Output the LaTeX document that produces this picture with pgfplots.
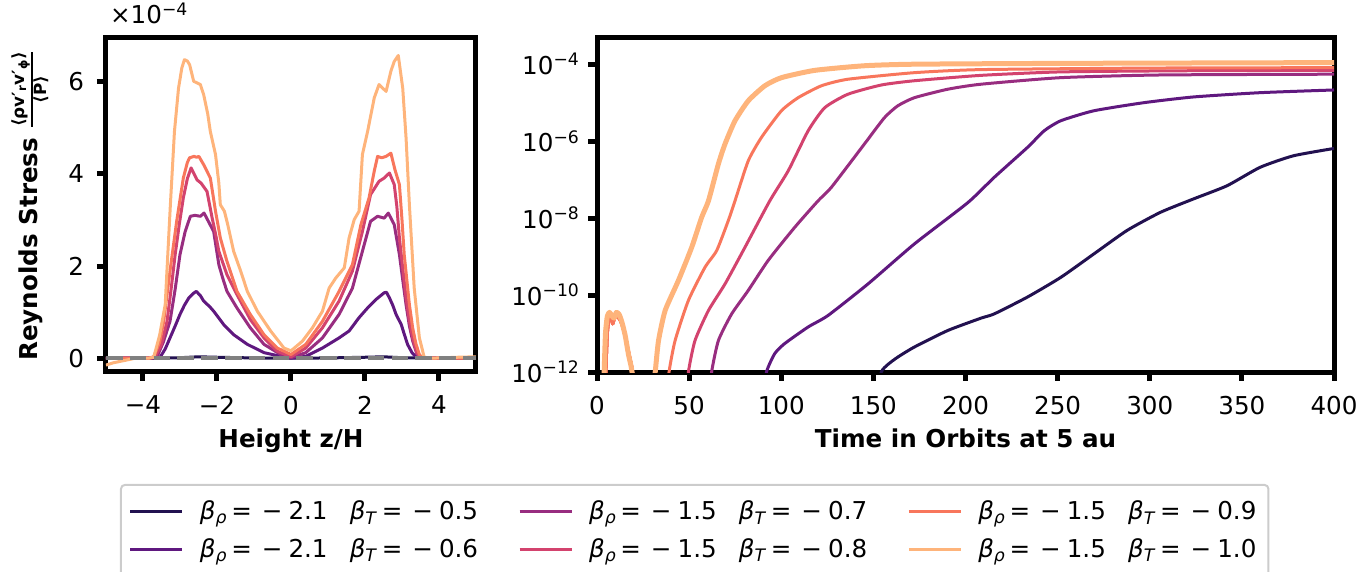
\documentclass[border=0pt]{standalone}
\usepackage{fontspec}
\setmainfont{DejaVu Sans}
\usepackage{pgfplots}
\pgfplotsset{compat=1.18}

% magma palette, one colour per run
\definecolor{mA}{HTML}{221150}
\definecolor{mB}{HTML}{5F187F}
\definecolor{mC}{HTML}{982D80}
\definecolor{mD}{HTML}{D3436E}
\definecolor{mE}{HTML}{F8765C}
\definecolor{mF}{HTML}{FEB47B}

\newcommand{\fs}{\fontsize{12.3}{14}\selectfont}
\newcommand{\bt}[2]{\textit{β}\textsubscript{\textit{ρ}}\hspace{0.15em}=\hspace{0.4em}−\hspace{0.25em}#1\hspace{0.9em}\textit{β}\textsubscript{\textit{T}}\hspace{0.15em}=\hspace{0.4em}−\hspace{0.25em}#2}

\pgfplotsset{
  panel/.style={
    scale only axis,
    height=167pt,
    clip mode=individual,
    axis line style={line width=2.5pt},
    tick align=outside,
    major tick length=4.5pt,
    major tick style={line width=2.5pt, black},
    minor tick length=0pt,
    xtick pos=lower, ytick pos=left,
    tick label style={font=\fs},
    xticklabel shift=4pt,
    label style={font=\fs\bfseries},
    every axis plot/.append style={line join=round},
  },
}

\begin{document}
\begin{tikzpicture}
% ---------------- vertical profile of the stress ----------------
\begin{axis}[panel,
  width=185pt,
  at={(0pt,0pt)}, anchor=south west,
  xmin=-5, xmax=5, ymin=-0.3, ymax=6.95,
  xtick={-4,-2,0,2,4}, xticklabels={−4,−2,0,2,4},
  ytick={0,2,4,6}, yticklabels={0,2,4,6},
  yticklabel shift=3pt,
  xlabel={Height z/H},
  xlabel style={at={(axis description cs:0.5,-0.2246)}, anchor=base},
  ylabel={Reynolds Stress ${\hbox{\fontsize{8.4}{9}\selectfont\bfseries ⟨ρv′\textsubscript{r}v′\textsubscript{ϕ}⟩}\above 0.7pt\hbox{\fontsize{8.4}{9}\selectfont\bfseries ⟨P⟩}}$},
  ylabel style={at={(axis description cs:-0.205,0.5)}, anchor=center, rotate=0},
  legend columns=3,
  legend style={at={(axis description cs:0.0378,-0.335)}, anchor=north west,
    draw=black!20, line width=1pt, rounded corners=2pt, font=\fs,
    column sep=0pt, row sep=4pt, inner xsep=4pt, inner ysep=6pt,
    /tikz/every odd column/.append style={column sep=6pt},
    /tikz/every even column/.append style={column sep=18pt}},
  legend cell align=left,
  legend image code/.code={\draw[#1, line width=1.5pt] (0pt,0pt) -- (26pt,0pt);},
]
\addplot[mA, line width=1.5pt, forget plot] coordinates {
(-5,0) (-3.6,0) (-3.0,0.01) (-2.5,0.03) (-2.0,0.02) (-1.0,0.005) (0,0)
(1.0,0.005) (2.0,0.02) (2.5,0.03) (3.0,0.01) (3.6,0) (5,0)};
\addplot[mB, line width=1.5pt, forget plot] coordinates {
(-5,0) (-3.7,0) (-3.53,0.03) (-3.4,0.2) (-3.27,0.44) (-3.13,0.70) (-3.00,0.95)
(-2.88,1.15) (-2.76,1.31) (-2.65,1.40) (-2.56,1.45) (-2.45,1.36) (-2.36,1.24)
(-2.2,1.12) (-2.09,1.02) (-1.95,0.87) (-1.82,0.73) (-1.55,0.51) (-1.18,0.30)
(-0.73,0.12) (-0.28,0.04) (0,0.0) (0.4,0.04) (0.85,0.22) (1.30,0.44)
(1.57,0.59) (1.84,0.88) (2.07,1.09) (2.29,1.27) (2.52,1.42) (2.58,1.43)
(2.66,1.31) (2.75,1.15) (2.84,0.95) (2.98,0.73) (3.05,0.55) (3.15,0.30)
(3.27,0.12) (3.38,0.03) (3.5,0) (5,0)};
\addplot[mC, line width=1.5pt, forget plot] coordinates {
(-5,0) (-3.75,0) (-3.62,0.03) (-3.45,0.35) (-3.27,0.80) (-3.13,1.5) (-3.00,2.25)
(-2.86,2.75) (-2.72,3.08) (-2.60,3.10) (-2.45,3.08) (-2.35,3.15) (-2.22,2.95)
(-2.09,2.75) (-1.95,2.03) (-1.85,1.75) (-1.73,1.45) (-1.46,1.09) (-1.10,0.66)
(-0.73,0.30) (-0.28,0.08) (0,0.01) (0.40,0.12) (0.85,0.44) (1.30,0.95)
(1.66,1.52) (1.93,2.32) (2.15,2.97) (2.34,3.08) (2.52,3.04) (2.63,3.15)
(2.79,2.90) (2.93,2.25) (3.02,1.70) (3.11,1.16) (3.20,0.70) (3.29,0.37)
(3.40,0.10) (3.51,0.0) (5,0)};
\addplot[mD, line width=1.5pt, forget plot] coordinates {
(-5,0) (-3.8,0) (-3.67,0.03) (-3.5,0.3) (-3.35,0.80) (-3.24,1.5) (-3.13,2.25)
(-3.02,2.9) (-2.91,3.48) (-2.80,3.90) (-2.70,4.13) (-2.62,4.00) (-2.54,3.87)
(-2.43,3.80) (-2.27,3.62) (-2.13,3.04) (-2.04,2.70) (-1.95,2.32) (-1.73,1.81)
(-1.46,1.38) (-1.10,0.84) (-0.73,0.44) (-0.37,0.15) (0,0.03) (0.40,0.22)
(0.85,0.66) (1.30,1.24) (1.66,1.89) (1.93,2.75) (2.15,3.55) (2.38,3.84)
(2.52,3.91) (2.66,4.02) (2.79,3.77) (2.86,3.3) (2.93,2.61) (3.02,1.95)
(3.11,1.31) (3.20,0.80) (3.29,0.44) (3.40,0.12) (3.51,0) (5,0)};
\addplot[mE, line width=1.5pt, forget plot] coordinates {
(-5,0) (-3.85,0) (-3.71,0.03) (-3.55,0.35) (-3.44,0.80) (-3.27,1.89) (-3.09,2.97)
(-2.91,3.91) (-2.80,4.25) (-2.74,4.35) (-2.62,4.38) (-2.55,4.36) (-2.49,4.38)
(-2.36,4.20) (-2.18,3.91) (-2.04,3.19) (-1.91,2.61) (-1.73,2.10) (-1.46,1.45)
(-1.10,0.95) (-0.73,0.51) (-0.37,0.22) (0,0.08) (0.40,0.30) (0.85,0.80)
(1.30,1.45) (1.66,2.03) (1.89,2.90) (2.11,3.48) (2.25,4.06) (2.34,4.38)
(2.45,4.35) (2.57,4.38) (2.70,4.45) (2.81,4.09) (2.93,3.77) (3.00,3.0)
(3.06,2.25) (3.20,1.16) (3.29,0.65) (3.38,0.30) (3.47,0.08) (3.56,0) (5,0)};
\addplot[mF, line width=1.5pt, forget plot] coordinates {
(-5,-0.15) (-4.8,-0.1) (-4.5,-0.05) (-4.2,0) (-3.85,0) (-3.71,0.02) (-3.55,0.5)
(-3.40,1.16) (-3.26,3.33) (-3.15,4.92) (-3.04,5.86) (-2.95,6.3) (-2.88,6.48)
(-2.80,6.45) (-2.74,6.37) (-2.63,6.01) (-2.45,5.94) (-2.36,5.72) (-2.25,5.3)
(-2.18,4.92) (-2.04,4.42) (-1.95,3.8) (-1.91,3.33) (-1.80,3.19) (-1.71,2.90)
(-1.55,2.32) (-1.36,1.89) (-1.18,1.45) (-0.91,1.02) (-0.55,0.59) (-0.19,0.22)
(0,0.16) (0.31,0.37) (0.58,0.66) (0.85,1.02) (1.03,1.52) (1.21,1.74)
(1.44,1.96) (1.57,2.61) (1.71,3.01) (1.84,3.19) (1.93,4.42) (2.07,4.92)
(2.25,5.65) (2.38,5.94) (2.57,5.79) (2.70,6.23) (2.79,6.44) (2.90,6.57)
(3.02,5.86) (3.11,4.78) (3.20,3.33) (3.33,1.52) (3.47,0.44) (3.60,0.02)
(3.8,0) (4.5,0.02) (5,0.03)};
% zero reference
\addplot[gray, line width=2.3pt, dash pattern=on 8.3pt off 3.6pt, forget plot]
  coordinates {(-5,0) (5,0)};
\node[anchor=south west, font=\fs, inner sep=0pt] at (axis description cs:0.01,1.04)
  {×10\textsuperscript{−4}};
% legend, filled row by row
\addlegendimage{mA}\addlegendentry{\bt{2.1}{0.5}}
\addlegendimage{mC}\addlegendentry{\bt{1.5}{0.7}}
\addlegendimage{mE}\addlegendentry{\bt{1.5}{0.9}}
\addlegendimage{mB}\addlegendentry{\bt{2.1}{0.6}}
\addlegendimage{mD}\addlegendentry{\bt{1.5}{0.8}}
\addlegendimage{mF}\addlegendentry{\bt{1.5}{1.0}}
\end{axis}

% ---------------- growth in time ----------------
\begin{axis}[panel,
  width=368.5pt,
  at={(245.5pt,0pt)}, anchor=south west,
  ymode=log,
  xmin=0, xmax=400, ymin=1e-12, ymax=4.8e-4,
  xtick={0,50,100,150,200,250,300,350,400},
  xticklabels={0,50,100,150,200,250,300,350,400},
  ytick={1e-12,1e-10,1e-8,1e-6,1e-4},
  yticklabels={10\textsuperscript{−12},10\textsuperscript{−10},10\textsuperscript{−8},10\textsuperscript{−6},10\textsuperscript{−4}},
  yticklabel shift=0.5pt,
  xlabel={Time in Orbits at 5 au},
  xlabel style={at={(axis description cs:0.5,-0.2246)}, anchor=base},
  every axis plot/.append style={smooth, tension=0.35},
]
% early transient shared by the runs
\pgfplotsforeachungrouped \c in {mA,mB,mC,mD,mE}{
\addplot[\c, line width=1.5pt] coordinates {
(4.2,1e-13) (4.8,1e-12) (5.6,1e-11) (6.5,2.51e-11) (7.5,2.82e-11) (8.5,1.78e-11)
(9.5,2.51e-11) (11,2.82e-11) (13,2e-11) (15,1e-11) (17,3.55e-12) (19,1.26e-12)
(20.5,3.2e-13) (21,1e-13)};
}
\addplot[mF, line width=2.5pt] coordinates {
(3.4,1e-13) (3.9,1e-12) (4.6,1e-11) (5.6,2.82e-11) (6.8,3.55e-11) (8.2,2.82e-11)
(9.3,2.51e-11) (10.5,3.55e-11) (12,3.16e-11) (13.5,2e-11) (15.3,8.9e-12)
(17.1,2.82e-12) (19,1e-12) (20,1e-13)};
% growth phases
\addplot[mA, line width=1.5pt] coordinates {
(152,2.5e-13) (154.3,1e-12) (158,1.585e-12) (163.3,2.45e-12) (172.3,4.47e-12)
(190.4,1.2e-11) (208.4,2.51e-11) (215.6,3.24e-11) (233.7,8.91e-11)
(251.7,2.88e-10) (269.7,1.175e-9) (287.7,4.79e-9) (305.8,1.413e-8)
(323.8,3.16e-8) (341.9,6.92e-8) (359.9,2.09e-7) (378,4.17e-7) (400,6.46e-7)};
\addplot[mB, line width=1.5pt] coordinates {
(90,1.6e-13) (92,1e-12) (96.5,3.02e-12) (101.9,5.5e-12) (114.6,1.48e-11)
(125.4,2.95e-11) (147.1,1.95e-10) (172.3,2.14e-9) (201.2,2.51e-8)
(215.6,1.148e-7) (233.7,6.92e-7) (242.7,1.86e-6) (251.7,3.39e-6)
(269.7,6.17e-6) (296.8,1e-5) (323.8,1.41e-5) (359.9,1.82e-5) (400,2.14e-5)};
\addplot[mC, line width=1.5pt] coordinates {
(60,1e-13) (62.2,1e-12) (65.9,6.6e-12) (73.1,3.24e-11) (82.1,1.32e-10)
(92.9,7.94e-10) (107.3,5.75e-9) (120,2.82e-8) (127.2,6.31e-8) (145.2,8.51e-7)
(156,4.07e-6) (163.3,8.32e-6) (172.3,1.35e-5) (190.4,2.24e-5) (208.4,3.02e-5)
(251.7,4.47e-5) (305.8,5.25e-5) (400,5.5e-5)};
\addplot[mD, line width=1.5pt] coordinates {
(47.5,1e-13) (49.6,1e-12) (53.2,6.6e-12) (60.5,3.98e-11) (69.5,1.95e-10)
(80.3,1.74e-9) (93.8,2.82e-8) (103.8,1.7e-7) (114.6,1.86e-6) (123.6,7.41e-6)
(136.2,1.66e-5) (154.3,2.88e-5) (172.3,3.72e-5) (208.4,5.13e-5)
(251.7,6.31e-5) (320,6.76e-5) (400,6.92e-5)};
\addplot[mE, line width=1.5pt] coordinates {
(37,1e-13) (39.1,1e-12) (42.4,6.6e-12) (49.6,7.24e-11) (58.6,5.25e-10)
(65,1.445e-9) (71.3,8.71e-9) (74.9,2.82e-8) (82.1,3.09e-7) (89.3,1.26e-6)
(100.1,6.17e-6) (109.2,1.35e-5) (121.8,2.75e-5) (136.2,4.07e-5)
(172.3,6.03e-5) (208.4,7.24e-5) (300,7.94e-5) (400,8.13e-5)};
\addplot[mF, line width=2.5pt] coordinates {
(29.5,1e-13) (31.6,1e-12) (33.4,6.6e-12) (37,3.98e-11) (44.2,2.4e-10)
(51.4,1.74e-9) (56.8,1.047e-8) (60.5,2.82e-8) (65.9,2.57e-7) (69.5,8.51e-7)
(74.9,3.39e-6) (82.1,1.12e-5) (91.1,2.75e-5) (100.1,4.47e-5) (118.2,6.92e-5)
(145.2,9.12e-5) (172.3,1e-4) (250,1.05e-4) (400,1.1e-4)};
\end{axis}

\pgfresetboundingbox
\path[use as bounding box] (-53pt,-100pt) rectangle (633pt,186pt);
\end{tikzpicture}
\end{document}
